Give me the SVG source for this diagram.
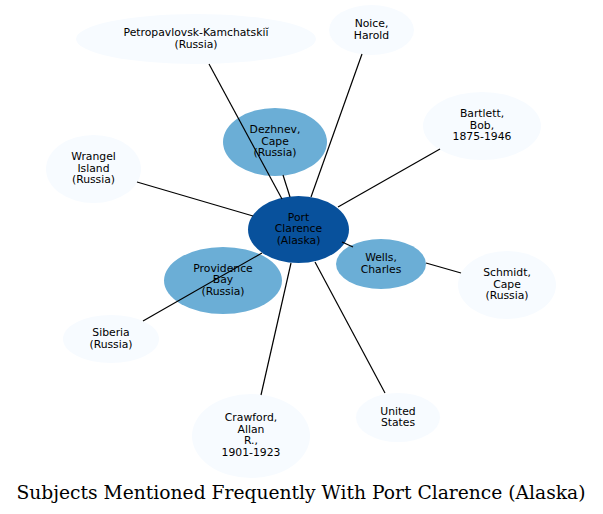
<svg xmlns="http://www.w3.org/2000/svg" width="603" height="514" viewBox="0 0 603 514">
<style>
.n text{font-family:"DejaVu Sans",sans-serif;font-size:10.8px;text-anchor:middle;fill:#000}
.l ellipse{fill:#f7fbff}
.m ellipse{fill:#6baed6}
.d ellipse{fill:#08519c}
#edges line{stroke:#000;stroke-width:1.2}
.title{font-family:"DejaVu Serif",serif;font-size:18.7px;text-anchor:middle;fill:#000}
</style>
<rect width="603" height="514" fill="#fff"/>
<g id="n-petro" class="n l"><ellipse cx="196" cy="39" rx="120" ry="25"/><text x="196" y="36">Petropavlovsk-Kamchatskiĭ</text><text x="196" y="47.5">(Russia)</text></g>
<g id="n-noice" class="n l"><ellipse cx="371.5" cy="30" rx="42.5" ry="25"/><text x="371.5" y="27">Noice,</text><text x="371.5" y="38.5">Harold</text></g>
<g id="n-bartlett" class="n l"><ellipse cx="482" cy="126" rx="59" ry="34"/><text x="482" y="117">Bartlett,</text><text x="482" y="128.5">Bob,</text><text x="482" y="140">1875-1946</text></g>
<g id="n-wrangel" class="n l"><ellipse cx="93.5" cy="169" rx="47.5" ry="34"/><text x="93.5" y="160">Wrangel</text><text x="93.5" y="171.5">Island</text><text x="93.5" y="183">(Russia)</text></g>
<g id="n-schmidt" class="n l"><ellipse cx="507" cy="285" rx="49" ry="34"/><text x="507" y="276">Schmidt,</text><text x="507" y="287.5">Cape</text><text x="507" y="299">(Russia)</text></g>
<g id="n-siberia" class="n l"><ellipse cx="111" cy="339" rx="48" ry="24"/><text x="111" y="336">Siberia</text><text x="111" y="347.5">(Russia)</text></g>
<g id="n-crawford" class="n l"><ellipse cx="251" cy="436" rx="59" ry="42"/><text x="251" y="421">Crawford,</text><text x="251" y="432.5">Allan</text><text x="251" y="444">R.,</text><text x="251" y="455.5">1901-1923</text></g>
<g id="n-us" class="n l"><ellipse cx="398" cy="417.5" rx="42" ry="24.5"/><text x="398" y="414.5">United</text><text x="398" y="426">States</text></g>
<g id="n-dezhnev" class="n m"><ellipse cx="275" cy="142" rx="52" ry="34"/><text x="275" y="133">Dezhnev,</text><text x="275" y="144.5">Cape</text><text x="275" y="156">(Russia)</text></g>
<g id="n-providence" class="n m"><ellipse cx="223" cy="280.5" rx="59" ry="33.5"/><text x="223" y="271.5">Providence</text><text x="223" y="283">Bay</text><text x="223" y="294.5">(Russia)</text></g>
<g id="n-wells" class="n m"><ellipse cx="381" cy="264" rx="45" ry="25"/><text x="381" y="261">Wells,</text><text x="381" y="272.5">Charles</text></g>
<g id="n-port" class="n d"><ellipse cx="298.5" cy="229.5" rx="50.5" ry="33.5"/><text x="298.5" y="220.5">Port</text><text x="298.5" y="232">Clarence</text><text x="298.5" y="243.5">(Alaska)</text></g>
<g id="edges">
<line x1="209" y1="64" x2="282" y2="199"/>
<line x1="362" y1="54" x2="311" y2="197"/>
<line x1="283" y1="175" x2="290" y2="197"/>
<line x1="440" y1="149" x2="338" y2="207"/>
<line x1="137" y1="182" x2="253" y2="216"/>
<line x1="342" y1="242" x2="353" y2="247"/>
<line x1="426" y1="263" x2="461" y2="273"/>
<line x1="143" y1="321" x2="262" y2="253"/>
<line x1="261" y1="395" x2="291" y2="263"/>
<line x1="385" y1="393" x2="315" y2="262"/>
</g>
<text class="title" x="301" y="499">Subjects Mentioned Frequently With Port Clarence (Alaska)</text>
</svg>
